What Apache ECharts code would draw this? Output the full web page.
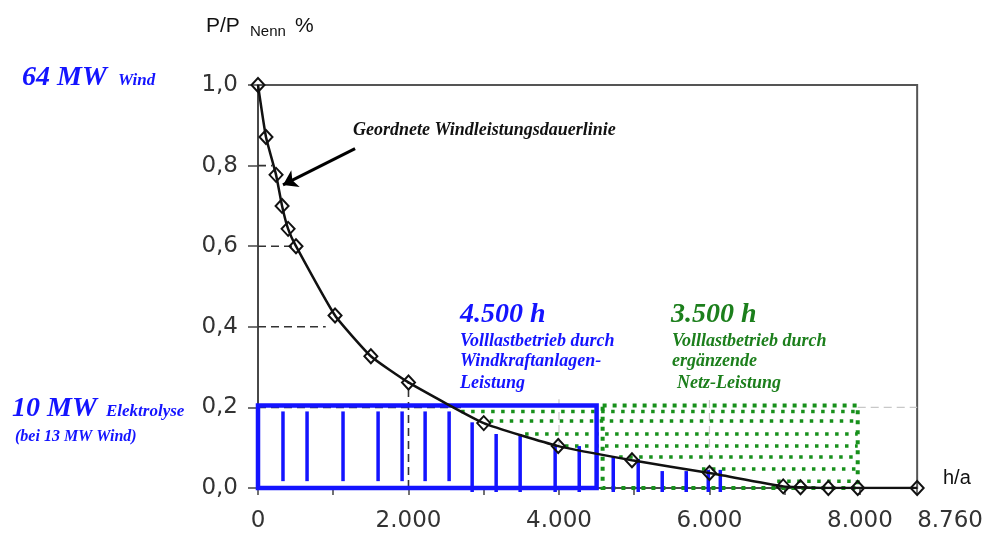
<!DOCTYPE html>
<html><head><meta charset="utf-8">
<script src="https://cdn.jsdelivr.net/npm/echarts@6/dist/echarts.min.js"></script>
<style>html,body{margin:0;padding:0;background:#fff}#c{width:986px;height:533px}</style>
</head><body><div id="c"></div>
<script>
// ---- data ----
const curveHours  = [0, 106, 240, 320, 400, 505, 1024, 1500, 2000, 3000, 3990, 4970, 6000, 6980, 7210, 7580, 7970, 8760];
const curveValues = [1.0, 0.871, 0.777, 0.70, 0.643, 0.60, 0.428, 0.327, 0.262, 0.161, 0.104, 0.069, 0.037, 0.004, 0.002, 0.0, 0.0, 0.0];

const xTickValues = [0, 2000, 4000, 6000, 8000, 8760];
const xTickLabels = ['0', '2.000', '4.000', '6.000', '8.000', '8.760'];
const yTickValues = [0, 0.2, 0.4, 0.6, 0.8, 1.0];
const yTickLabels = ['0,0', '0,2', '0,4', '0,6', '0,8', '1,0'];

// blue vertical strokes (wind energy under the curve)
const windBarHours  = [332, 652, 1130, 1596, 1915, 2221, 2540, 2846, 3165, 3484, 3949, 4269, 4721, 5053, 5372, 5691, 5984, 6144];
const windBarTop    = [0.19, 0.19, 0.19, 0.19, 0.19, 0.19, 0.19, 0.163, 0.134, 0.134, 0.104, 0.104, 0.077, 0.072, 0.042, 0.042, 0.045, 0.045];
const windBarBottom = [0.017, 0.017, 0.017, 0.017, 0.017, 0.017, 0.017, -0.01, -0.01, -0.01, -0.01, -0.01, -0.01, -0.01, -0.01, -0.01, -0.01, -0.01];

// green dotted rows (grid energy above the curve)
const gridRowValues = [0.19, 0.166, 0.134, 0.104, 0.077, 0.047, 0.017];
const gridRowStart  = [2700, 3080, 3550, 4080, 4800, 5900, 6900];
const gridRowEnd    = [7970, 7970, 7970, 7970, 7970, 7970, 7970];

// blocks: [hourFrom, hourTo, valueFrom, valueTo]
const windBlock = [0, 4500, 0, 0.205];
const gridBlock = [4580, 7970, 0, 0.205];

// guide lines: [h1, v1, h2, v2]
const darkGuides  = [[0, 0.8, 190, 0.8], [0, 0.6, 505, 0.6], [0, 0.4, 900, 0.4], [0, 0.2, 2700, 0.2], [2000, 0, 2000, 0.262]];
const lightGuides = [[7970, 0.2, 8760, 0.2], [4000, 0.104, 4000, 0.22], [6000, 0.037, 6000, 0.22]];

const arrowFrom = [1290, 0.842];
const arrowTo   = [332, 0.752];

// ---- chart ----
const chart = echarts.init(document.getElementById('c'), null, {renderer: 'canvas'});

function segRender(style) {
  return function (params, api) {
    const a = api.coord([api.value(0), api.value(1)]);
    const b = api.coord([api.value(2), api.value(3)]);
    return {type: 'line', shape: {x1: a[0], y1: a[1], x2: b[0], y2: b[1]}, style: Object.assign({}, style)};
  };
}
function rectRender(style) {
  return function (params, api) {
    const p0 = api.coord([api.value(0), api.value(2)]);
    const p1 = api.coord([api.value(1), api.value(3)]);
    return {type: 'rect', shape: {x: p0[0], y: p1[1], width: p1[0] - p0[0], height: p0[1] - p1[1]}, style: Object.assign({fill: 'none'}, style)};
  };
}

const BLUE = '#1414ff';
const GREEN = '#17901b';
const GREEN_TXT = '#1c7f1c';
const SERIF = '"Liberation Serif", "Times New Roman", serif';
const SANS = '"Liberation Sans", Arial, sans-serif';

function txt(text, x, y, font, fill) {
  return {type: 'text', x: 0, y: 0, silent: true, z: 100,
    style: {text: text, x: x, y: y, font: font, fill: fill, textAlign: 'left', textVerticalAlign: 'middle', align: 'left', verticalAlign: 'middle'}};
}

const option = {
  animation: false,
  backgroundColor: '#fff',
  grid: {left: 258, right: 68, top: 85, bottom: 44, show: true, borderColor: '#555', borderWidth: 2, backgroundColor: 'transparent'},
  xAxis: {
    type: 'value', min: 0, max: 8760, interval: 1000,
    axisLine: {show: true, lineStyle: {color: '#444', width: 1.5}},
    axisTick: {show: true, length: 7, lineStyle: {color: '#444', width: 1.5}},
    splitLine: {show: false},
    axisLabel: {
      margin: 22, color: '#333', fontFamily: '"DejaVu Sans"', fontSize: 23,
      showMaxLabel: true, alignMaxLabel: 'left',
      formatter: function (v) { const i = xTickValues.indexOf(v); return i >= 0 ? xTickLabels[i] : ''; },
      rich: {}
    }
  },
  yAxis: {
    type: 'value', min: 0, max: 1, interval: 0.2,
    axisLine: {show: true, lineStyle: {color: '#444', width: 1.5}},
    axisTick: {show: true, length: 10, lineStyle: {color: '#444', width: 1.5}},
    splitLine: {show: false},
    axisLabel: {
      margin: 20, color: '#333', fontFamily: '"DejaVu Sans"', fontSize: 23,
      formatter: function (v) {
        for (let i = 0; i < yTickValues.length; i++) if (Math.abs(yTickValues[i] - v) < 1e-6) return yTickLabels[i];
        return '';
      }
    }
  },
  graphic: [
    txt('P/P', 206, 26, '21px ' + SANS, '#111'),
    txt('Nenn', 250, 32, '15px ' + SANS, '#111'),
    txt('%', 295, 26, '21px ' + SANS, '#111'),
    txt('h/a', 943, 478, '20px ' + SANS, '#111'),
    txt('64 MW', 22, 78, 'italic bold 28px ' + SERIF, BLUE),
    txt('Wind', 118, 81, 'italic bold 17px ' + SERIF, BLUE),
    txt('10 MW', 12, 409, 'italic bold 28px ' + SERIF, BLUE),
    txt('Elektrolyse', 106, 412, 'italic bold 17px ' + SERIF, BLUE),
    txt('(bei 13 MW Wind)', 15, 437, 'italic bold 16px ' + SERIF, BLUE),
    txt('Geordnete Windleistungsdauerlinie', 353, 130, 'italic bold 18px ' + SERIF, '#111'),
    txt('4.500 h', 460, 315, 'italic bold 28px ' + SERIF, BLUE),
    txt('Volllastbetrieb durch', 460, 341, 'italic bold 18px ' + SERIF, BLUE),
    txt('Windkraftanlagen-', 460, 361, 'italic bold 18px ' + SERIF, BLUE),
    txt('Leistung', 460, 383, 'italic bold 18px ' + SERIF, BLUE),
    txt('3.500 h', 671, 315, 'italic bold 28px ' + SERIF, GREEN_TXT),
    txt('Volllastbetrieb durch', 672, 341, 'italic bold 18px ' + SERIF, GREEN_TXT),
    txt('ergänzende', 672, 361, 'italic bold 18px ' + SERIF, GREEN_TXT),
    txt('Netz-Leistung', 677, 383, 'italic bold 18px ' + SERIF, GREEN_TXT)
  ],
  series: [
    {
      type: 'custom', name: 'lightGuides', silent: true, clip: false, z: 1,
      encode: {x: [0, 2], y: [1, 3]},
      renderItem: segRender({stroke: '#c8c8c8', lineWidth: 1.2, lineDash: [8, 5]}),
      data: lightGuides
    },
    {
      type: 'custom', name: 'darkGuides', silent: true, clip: false, z: 2,
      encode: {x: [0, 2], y: [1, 3]},
      renderItem: segRender({stroke: '#333', lineWidth: 1.6, lineDash: [8, 5]}),
      data: darkGuides
    },
    {
      type: 'custom', name: 'gridRows', silent: true, clip: false, z: 3,
      encode: {x: [0, 2], y: [1, 3]},
      renderItem: segRender({stroke: GREEN, lineWidth: 3.5, lineDash: [3.5, 6.5]}),
      data: gridRowValues.map((v, i) => [gridRowStart[i], v, gridRowEnd[i], v])
    },
    {
      type: 'custom', name: 'gridBlock', silent: true, clip: false, z: 4,
      encode: {x: [0, 1], y: [2, 3]},
      renderItem: rectRender({stroke: GREEN, lineWidth: 4, lineDash: [4, 6]}),
      data: [gridBlock]
    },
    {
      type: 'custom', name: 'windBars', silent: true, clip: false, z: 5,
      encode: {x: [0, 2], y: [1, 3]},
      renderItem: segRender({stroke: BLUE, lineWidth: 3.5}),
      data: windBarHours.map((h, i) => [h, windBarBottom[i], h, windBarTop[i]])
    },
    {
      type: 'custom', name: 'windBlock', silent: true, clip: false, z: 6,
      encode: {x: [0, 1], y: [2, 3]},
      renderItem: rectRender({stroke: BLUE, lineWidth: 4.5}),
      data: [windBlock]
    },
    {
      type: 'line', name: 'Dauerlinie', z: 10,
      data: curveHours.map((h, i) => [h, curveValues[i]]),
      smooth: 0.15,
      symbol: 'diamond', symbolSize: [13, 14], showAllSymbol: true,
      lineStyle: {color: '#111', width: 2.5},
      itemStyle: {color: 'rgba(255,255,255,0)', borderColor: '#111', borderWidth: 2},
      markLine: {
        silent: true, symbol: ['none', 'arrow'], symbolSize: 14, animation: false,
        lineStyle: {color: '#000', width: 3, type: 'solid'},
        label: {show: false},
        data: [[{coord: arrowFrom}, {coord: arrowTo}]]
      }
    }
  ]
};
chart.setOption(option);
</script>
</body></html>
